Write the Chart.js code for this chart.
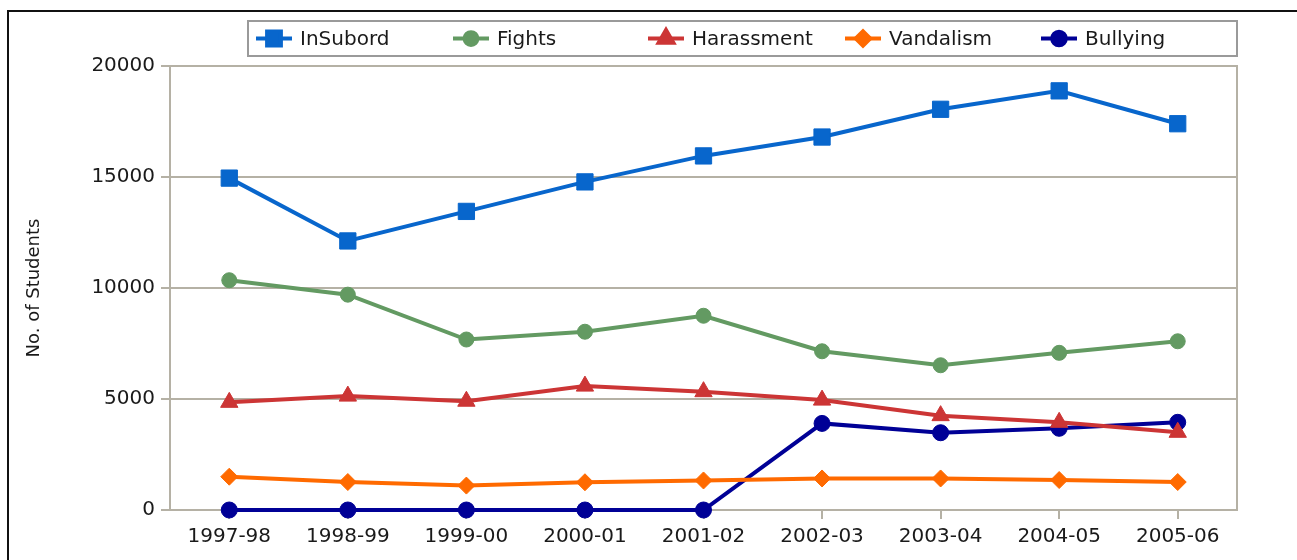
<!DOCTYPE html>
<html lang="en">
<head>
    <meta charset="UTF-8">
    <title>Student Incidents</title>
    <style>
        html, body {
            margin: 0;
            padding: 0;
            background: #ffffff;
        }
        .wrap {
            position: relative;
            width: 1297px;
            height: 560px;
        }
    </style>
</head>
<body>
<div class="wrap">
    <canvas id="grafico" width="1297" height="560"></canvas>
</div>

<script src="https://cdn.jsdelivr.net/npm/chart.js"></script>
<script>
    // dados
    const anos = ['1997-98', '1998-99', '1999-00', '2000-01', '2001-02', '2002-03', '2003-04', '2004-05', '2005-06'];
    const inSubord   = [14950, 12120, 13450, 14780, 15950, 16800, 18050, 18880, 17400];
    const fights     = [10350,  9700,  7680,  8030,  8750,  7150,  6520,  7080,  7600];
    const harassment = [ 4850,  5130,  4900,  5580,  5330,  4950,  4250,  3950,  3500];
    const vandalism  = [ 1500,  1260,  1100,  1250,  1330,  1420,  1420,  1350,  1260];
    const bullying   = [    0,     0,     0,     0,     0,  3900,  3480,  3680,  3950];
    const yTicks = [0, 5000, 10000, 15000, 20000];

    const FONT = 'DejaVu Sans';
    const GRID = '#b5b1a5';

    const series = [
        { label: 'InSubord',   data: inSubord,   color: '#0866cc', style: 'rect',     radius: 11.5, legendX: 256 },
        { label: 'Fights',     data: fights,     color: '#639a62', style: 'circle',   radius: 7.5,  legendX: 453 },
        { label: 'Harassment', data: harassment, color: '#cc3535', style: 'triangle', radius: 10,   legendX: 648 },
        { label: 'Vandalism',  data: vandalism,  color: '#ff6a00', style: 'rectRot',  radius: 8.5,  legendX: 845 },
        { label: 'Bullying',   data: bullying,   color: '#000096', style: 'circle',   radius: 8,    legendX: 1041 }
    ];

    // moldura, borda da área do gráfico e legenda desenhadas à mão
    const molduraPlugin = {
        id: 'moldura',
        beforeDraw(chart) {
            const ctx = chart.ctx;
            ctx.save();
            ctx.fillStyle = '#ffffff';
            ctx.fillRect(0, 0, chart.width, chart.height);
            ctx.strokeStyle = '#111111';
            ctx.lineWidth = 2;
            ctx.beginPath();
            ctx.moveTo(chart.width, 11);
            ctx.lineTo(8, 11);
            ctx.lineTo(8, chart.height);
            ctx.stroke();
            ctx.restore();
        },
        beforeDatasetsDraw(chart) {
            const { ctx, chartArea } = chart;
            ctx.save();
            ctx.strokeStyle = GRID;
            ctx.lineWidth = 2;
            ctx.beginPath();
            ctx.moveTo(chartArea.left, chartArea.top);
            ctx.lineTo(chartArea.right, chartArea.top);
            ctx.lineTo(chartArea.right, chartArea.bottom);
            ctx.stroke();
            ctx.restore();
        },
        afterDraw(chart) {
            const ctx = chart.ctx;
            ctx.save();
            ctx.strokeStyle = '#9a9a9a';
            ctx.lineWidth = 2;
            ctx.strokeRect(248, 21, 989, 35);
            const y = 38.5;
            series.forEach(s => {
                ctx.strokeStyle = s.color;
                ctx.lineWidth = 4;
                ctx.beginPath();
                ctx.moveTo(s.legendX, y);
                ctx.lineTo(s.legendX + 36, y);
                ctx.stroke();
                ctx.fillStyle = s.color;
                Chart.helpers.drawPoint(ctx, {
                    pointStyle: s.style,
                    radius: s.radius * 0.85,
                    rotation: 0,
                    borderWidth: 1
                }, s.legendX + 18, y);
                ctx.fillStyle = '#1a1a1a';
                ctx.font = '20px "' + FONT + '"';
                ctx.textBaseline = 'middle';
                ctx.textAlign = 'left';
                ctx.fillText(s.label, s.legendX + 44, y + 1);
            });
            ctx.restore();
        }
    };

    new Chart(document.getElementById('grafico').getContext('2d'), {
        type: 'line',
        data: {
            labels: anos,
            datasets: series.map(s => ({
                label: s.label,
                data: s.data,
                borderColor: s.color,
                backgroundColor: s.color,
                borderWidth: 4,
                pointStyle: s.style,
                pointRadius: s.radius,
                pointBorderWidth: 1,
                pointBorderColor: s.color,
                pointBackgroundColor: s.color,
                tension: 0,
                clip: false
            }))
        },
        options: {
            responsive: false,
            animation: false,
            layout: {
                padding: { top: 66, right: 60, bottom: 0, left: 0 }
            },
            plugins: {
                legend: { display: false },
                tooltip: { enabled: false }
            },
            scales: {
                x: {
                    offset: true,
                    grid: {
                        drawOnChartArea: false,
                        drawTicks: true,
                        tickLength: 9,
                        color: GRID,
                        lineWidth: 2
                    },
                    border: { color: GRID, width: 2 },
                    ticks: {
                        color: '#1a1a1a',
                        font: { family: FONT, size: 20 },
                        padding: 6,
                        maxRotation: 0,
                        autoSkip: false
                    },
                    afterFit(scale) { scale.height = 50; }
                },
                y: {
                    min: 0,
                    max: 20000,
                    afterBuildTicks(scale) {
                        scale.ticks = yTicks.map(v => ({ value: v }));
                    },
                    grid: {
                        color: GRID,
                        lineWidth: 2,
                        tickLength: 9
                    },
                    border: { color: GRID, width: 2 },
                    ticks: {
                        color: '#1a1a1a',
                        font: { family: FONT, size: 20 },
                        padding: 6,
                        callback: v => String(v)
                    },
                    title: {
                        display: true,
                        text: 'No. of Students',
                        color: '#1a1a1a',
                        font: { family: FONT, size: 18 },
                        padding: { top: 24, bottom: 0 }
                    },
                    afterFit(scale) { scale.width = 170; }
                }
            }
        },
        plugins: [molduraPlugin]
    });
</script>
</body>
</html>
